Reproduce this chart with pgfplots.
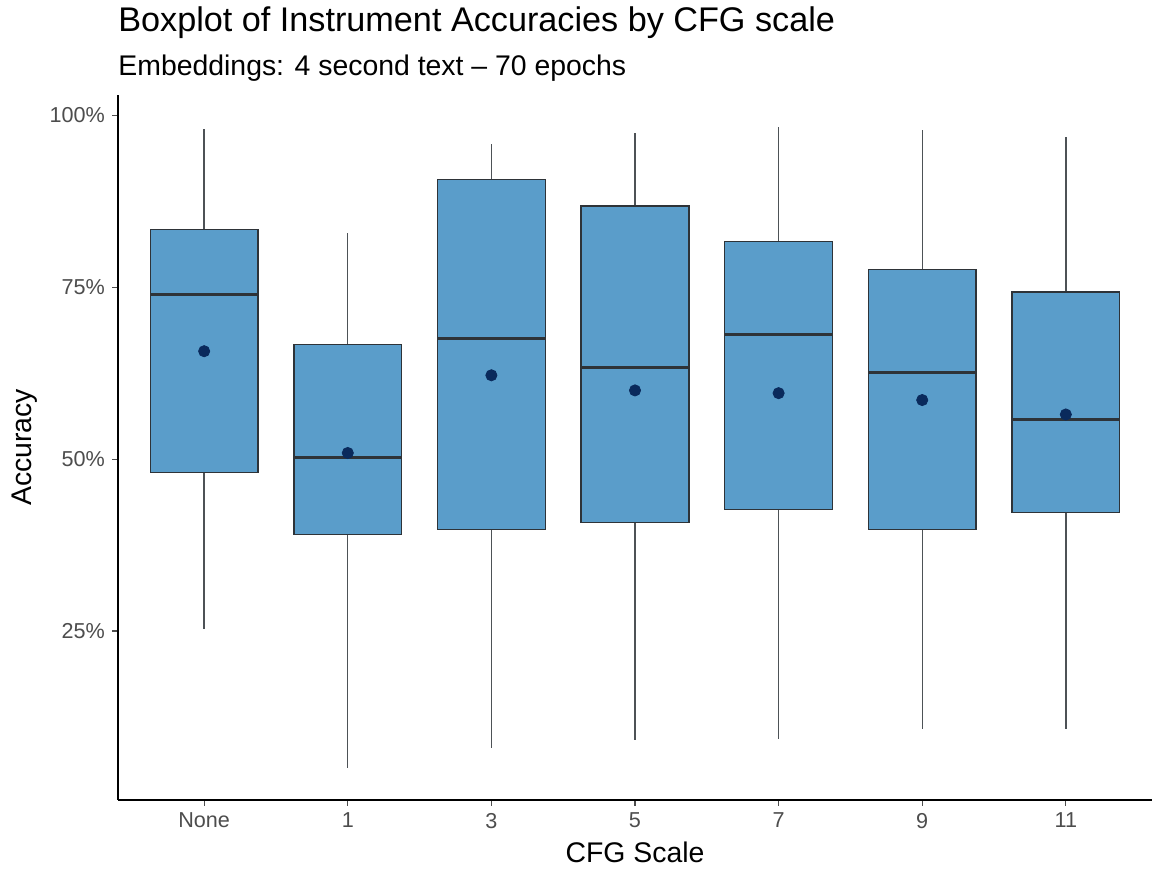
\documentclass[border=0pt]{standalone}
\usepackage{pgfplots}
\pgfplotsset{compat=1.18}
\usepgfplotslibrary{statistics}
\usepackage{fontspec}
\setmainfont{Liberation Sans}
\definecolor{boxblue}{HTML}{5A9DCA}
\definecolor{boxedge}{HTML}{2E3338}
\definecolor{meandot}{HTML}{0A2A5C}
\definecolor{ticktext}{HTML}{4D4D4D}
\begin{document}
\begin{tikzpicture}
\useasboundingbox (0,0) rectangle (576pt,435pt);
\begin{axis}[
  at={(59pt,35pt)}, anchor=south west,
  scale only axis, width=517pt, height=352.5pt,
  xmin=0.4, xmax=7.6, ymin=0.44, ymax=102.96,
  axis lines*=left,
  axis line style={black, line width=0.9pt},
  xtick={1,2,3,4,5,6,7},
  xticklabels={None,1,3,5,7,9,11},
  ytick={25,50,75,100},
  yticklabels={25\%,50\%,75\%,100\%},
  tick align=outside,
  major tick length=3pt,
  tick style={ticktext, line width=0.6pt},
  /pgf/number format/assume math mode=true,
  ticklabel style={font=\fontsize{10.8}{12}\selectfont, text=ticktext},
  xlabel={CFG Scale},
  ylabel={Accuracy},
  label style={font=\fontsize{14.2}{16}\selectfont},
  xlabel style={yshift=0pt},
  ylabel style={yshift=-0.5pt},
  boxplot/draw direction=y,
  boxplot/box extend=0.75,
  boxplot/whisker extend=0,
  boxplot/every box/.style={fill=boxblue, draw=boxedge, line width=0.65pt},
  boxplot/every whisker/.style={draw=boxedge!85, line width=0.7pt},
  boxplot/every median/.style={draw=boxedge, line width=1.5pt},
  clip=false,
]
\addplot[boxplot prepared={draw position=1, median=74.0, upper quartile=83.4, lower quartile=48.1, upper whisker=98.0, lower whisker=25.3}] coordinates {};
\addplot[boxplot prepared={draw position=2, median=50.3, upper quartile=66.7, lower quartile=39.0, upper whisker=82.9, lower whisker=5.1}] coordinates {};
\addplot[boxplot prepared={draw position=3, median=67.6, upper quartile=90.7, lower quartile=39.8, upper whisker=95.9, lower whisker=8.0}] coordinates {};
\addplot[boxplot prepared={draw position=4, median=63.4, upper quartile=86.8, lower quartile=40.8, upper whisker=97.4, lower whisker=9.2}] coordinates {};
\addplot[boxplot prepared={draw position=5, median=68.2, upper quartile=81.7, lower quartile=42.7, upper whisker=98.3, lower whisker=9.3}] coordinates {};
\addplot[boxplot prepared={draw position=6, median=62.6, upper quartile=77.6, lower quartile=39.8, upper whisker=97.8, lower whisker=10.8}] coordinates {};
\addplot[boxplot prepared={draw position=7, median=55.7, upper quartile=74.3, lower quartile=42.2, upper whisker=96.8, lower whisker=10.8}] coordinates {};
\addplot[only marks, mark=*, mark size=2.8pt, mark options={fill=meandot, draw=meandot}] coordinates {
(1,65.7) (2,50.9) (3,62.2) (4,60.0) (5,59.6) (6,58.6) (7,56.5)};
\end{axis}
\node[anchor=base west, font=\fontsize{17.1}{20}\selectfont, inner sep=0pt] at (59pt,419pt) {Boxplot of Instrument Accuracies by CFG scale};
\node[anchor=base west, font=\fontsize{14.2}{16}\selectfont, inner sep=0pt] at (59pt,397pt) {Embeddings: 4 second text -- 70 epochs};
\end{tikzpicture}
\end{document}
